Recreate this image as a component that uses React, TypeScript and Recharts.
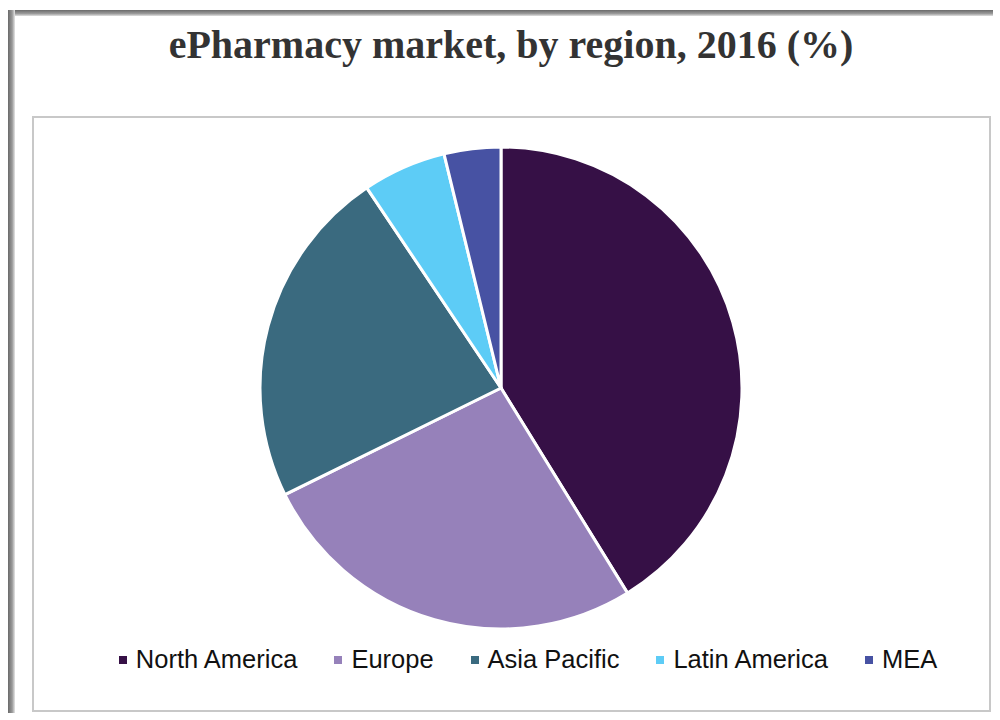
import { Legend, Pie, PieChart } from "recharts"

const regions = ["North America", "Europe", "Asia Pacific", "Latin America", "MEA"]
const shares = [41.2, 26.5, 22.9, 5.6, 3.8]
const colors = ["#361046", "#9681BA", "#3A6A7F", "#5DCCF6", "#4752A3"]

const data = regions.map((name, i) => ({ name, value: shares[i], fill: colors[i] }))

const LegendRow = () => (
  <div
    style={{
      display: "flex",
      justifyContent: "center",
      alignItems: "center",
      gap: 37,
      fontFamily: "'Liberation Sans', Arial, sans-serif",
      fontSize: 25.5,
      color: "#111",
    }}
  >
    {regions.map((r, i) => (
      <div key={r} style={{ display: "flex", alignItems: "center" }}>
        <span style={{ width: 8, height: 8, background: colors[i], marginRight: 9, display: "inline-block" }} />
        <span>{r}</span>
      </div>
    ))}
  </div>
)

const App = () => {
  return (
    <div style={{ position: "absolute", left: 0, top: 0, width: 1000, height: 720, background: "#fff", overflow: "hidden" }}>
      {/* shadowed outer frame */}
      <div
        style={{
          position: "absolute",
          left: 8,
          top: 10,
          width: 985,
          height: 6,
          background: "linear-gradient(to bottom, #6a6a6a, #9a9a9a 60%, #e0e0e0)",
        }}
      />
      <div
        style={{
          position: "absolute",
          left: 8,
          top: 10,
          width: 7,
          height: 703,
          background: "linear-gradient(to right, #6a6a6a, #9a9a9a 60%, #e6e6e6)",
        }}
      />
      {/* inner chart box */}
      <div
        style={{
          position: "absolute",
          left: 32,
          top: 116,
          width: 955,
          height: 592,
          border: "2px solid #c8c8c8",
        }}
      />
      <div
        style={{
          position: "absolute",
          left: 0,
          top: 21,
          width: 1022,
          textAlign: "center",
          fontFamily: "'Liberation Serif', 'DejaVu Serif', serif",
          fontWeight: 700,
          fontSize: 40,
          color: "#333",
        }}
      >
        ePharmacy market, by region, 2016 (%)
      </div>
      <div style={{ position: "absolute", left: 0, top: 0 }}>
        <PieChart width={1000} height={720} margin={{ top: 0, right: 0, bottom: 0, left: 0 }}>
          <Pie
            data={data}
            dataKey="value"
            nameKey="name"
            cx={501}
            cy={388}
            outerRadius={241}
            startAngle={90}
            endAngle={-270}
            stroke="#fff"
            strokeWidth={3}
            isAnimationActive={false}
          />
          <Legend
            content={<LegendRow />}
            wrapperStyle={{ position: "absolute", left: 58, top: 645, width: 940 }}
          />
        </PieChart>
      </div>
    </div>
  )
}

export default App
